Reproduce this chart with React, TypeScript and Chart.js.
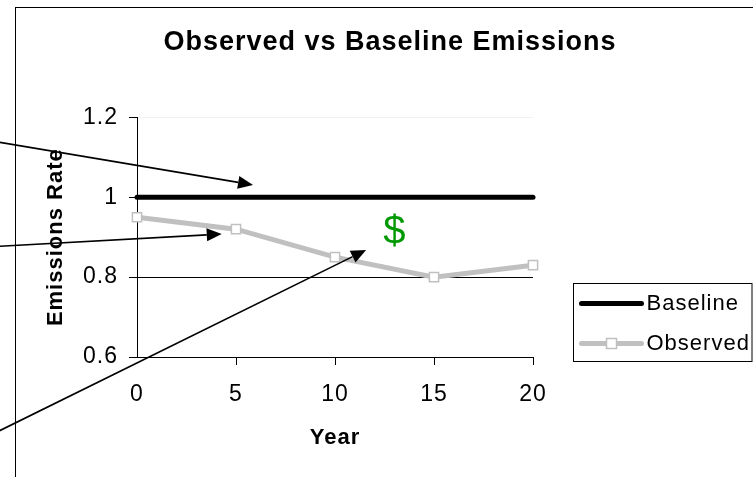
import React, { useEffect, useRef } from 'react';
import { Chart, registerables } from 'chart.js';

Chart.register(...registerables);

// Series data
const years = [0, 5, 10, 15, 20];
const baseline = [1, 1, 1, 1, 1];
const observed = [0.95, 0.92, 0.85, 0.8, 0.83];

// Axis ticks and labels
const xTicks = [0, 5, 10, 15, 20];
const yTicks = [0.6, 0.8, 1, 1.2];
const titleText = 'Observed vs Baseline Emissions';
const xTitle = 'Year';
const yTitle = 'Emissions Rate';
const seriesNames = ['Baseline', 'Observed'];

// Savings marker between the two curves (data coordinates)
const savingsLabel = { x: 13, y: 0.882, text: '$' };

// Callout arrows: tails start left of the plot, heads point into it (data coordinates)
const arrowTails = [
  [-7, 1.138],
  [-7, 0.877],
  [-7, 0.414],
];
const arrowHeads = [
  [5.86, 1.031],
  [4.28, 0.908],
  [11.57, 0.868],
];

const FONT = '"Liberation Sans", Arial, sans-serif';
const BASE_COLOR = '#000000';
const OBS_COLOR = '#c0c0c0';

function drawArrow(ctx: CanvasRenderingContext2D, x1: number, y1: number, x2: number, y2: number) {
  const ang = Math.atan2(y2 - y1, x2 - x1);
  const len = 15;
  const half = 6.5;
  const bx = x2 - len * Math.cos(ang);
  const by = y2 - len * Math.sin(ang);
  ctx.beginPath();
  ctx.moveTo(x1, y1);
  ctx.lineTo(bx, by);
  ctx.lineWidth = 1.6;
  ctx.strokeStyle = '#000';
  ctx.stroke();
  ctx.beginPath();
  ctx.moveTo(x2, y2);
  ctx.lineTo(bx - half * Math.sin(ang), by + half * Math.cos(ang));
  ctx.lineTo(bx + half * Math.sin(ang), by - half * Math.cos(ang));
  ctx.closePath();
  ctx.fillStyle = '#000';
  ctx.fill();
}

const decorPlugin = {
  id: 'decor',
  beforeUpdate(chart: any) {
    chart.ctx.letterSpacing = '1px';
  },
  beforeDraw(chart: any) {
    const ctx = chart.ctx as CanvasRenderingContext2D;
    ctx.save();
    ctx.fillStyle = '#ffffff';
    ctx.fillRect(0, 0, chart.width, chart.height);
    // outer frame of the chart object
    ctx.strokeStyle = '#000';
    ctx.lineWidth = 1;
    ctx.strokeRect(15.5, 7.5, chart.width + 20, chart.height + 20);
    ctx.restore();
    (ctx as any).letterSpacing = '1px';
  },
  afterDatasetsDraw(chart: any) {
    const ctx = chart.ctx as CanvasRenderingContext2D;
    const xs = chart.scales.x;
    const ys = chart.scales.y;
    ctx.save();
    (ctx as any).letterSpacing = '0px';
    ctx.font = `40px ${FONT}`;
    ctx.fillStyle = '#009900';
    ctx.textAlign = 'center';
    ctx.textBaseline = 'alphabetic';
    ctx.fillText(savingsLabel.text, xs.getPixelForValue(savingsLabel.x), ys.getPixelForValue(savingsLabel.y));
    ctx.restore();
  },
  afterDraw(chart: any) {
    const ctx = chart.ctx as CanvasRenderingContext2D;
    const xs = chart.scales.x;
    const ys = chart.scales.y;
    const area = chart.chartArea;

    ctx.save();
    arrowTails.forEach((t, i) => {
      const h = arrowHeads[i];
      drawArrow(
        ctx,
        xs.getPixelForValue(t[0]),
        ys.getPixelForValue(t[1]),
        xs.getPixelForValue(h[0]),
        ys.getPixelForValue(h[1])
      );
    });

    // legend box
    const lx = Math.round(area.right + 40) + 0.5;
    const ly = 283.5;
    const lw = chart.width - 1 - lx;
    const lh = 78;
    ctx.strokeStyle = '#000';
    ctx.lineWidth = 1;
    ctx.strokeRect(lx, ly, lw, lh);

    const rows = [ly + 20, ly + 60];
    const colors = [BASE_COLOR, OBS_COLOR];
    const x0 = lx + 8;
    const x1 = lx + 68;
    rows.forEach((ry, i) => {
      ctx.beginPath();
      ctx.moveTo(x0, ry);
      ctx.lineTo(x1, ry);
      ctx.strokeStyle = colors[i];
      ctx.lineWidth = 5;
      ctx.lineCap = 'round';
      ctx.stroke();
      if (i === 1) {
        const cx = (x0 + x1) / 2;
        ctx.fillStyle = '#ffffff';
        ctx.strokeStyle = OBS_COLOR;
        ctx.lineWidth = 1.5;
        ctx.fillRect(cx - 5, ry - 5, 10, 10);
        ctx.strokeRect(cx - 5, ry - 5, 10, 10);
      }
      (ctx as any).letterSpacing = '1px';
      ctx.font = `22px ${FONT}`;
      ctx.fillStyle = '#000';
      ctx.textAlign = 'left';
      ctx.textBaseline = 'middle';
      ctx.fillText(seriesNames[i], x1 + 5, ry);
    });
    ctx.restore();
  },
};

export default function App() {
  const canvasRef = useRef<HTMLCanvasElement | null>(null);

  useEffect(() => {
    const canvas = canvasRef.current;
    if (!canvas) return;
    Chart.defaults.font.family = FONT;
    Chart.defaults.color = '#000';

    const chart = new Chart(canvas, {
      type: 'line',
      data: {
        datasets: [
          {
            label: seriesNames[0],
            data: years.map((x, i) => ({ x, y: baseline[i] })),
            borderColor: BASE_COLOR,
            borderWidth: 5,
            borderCapStyle: 'round',
            pointRadius: 0,
            pointHoverRadius: 0,
            tension: 0,
            clip: false as any,
          },
          {
            label: seriesNames[1],
            data: years.map((x, i) => ({ x, y: observed[i] })),
            borderColor: OBS_COLOR,
            borderWidth: 5,
            borderCapStyle: 'round',
            pointStyle: 'rect',
            pointRadius: 6.5,
            pointHoverRadius: 6.5,
            pointBorderColor: OBS_COLOR,
            pointBackgroundColor: '#ffffff',
            pointBorderWidth: 1.5,
            tension: 0,
            clip: false as any,
          },
        ],
      },
      plugins: [decorPlugin],
      options: {
        responsive: false,
        animation: false,
        devicePixelRatio: 1,
        events: [],
        layout: { padding: { left: 27, right: 0, top: 0, bottom: 0 } },
        plugins: {
          legend: { display: false },
          tooltip: { enabled: false },
          title: {
            display: true,
            text: titleText,
            color: '#000',
            font: { size: 27, weight: 'bold', family: FONT },
            padding: { top: 26, bottom: 59 },
          },
        },
        scales: {
          x: {
            type: 'linear',
            min: 0,
            max: 20,
            afterBuildTicks: (s: any) => {
              s.ticks = xTicks.map((v) => ({ value: v }));
            },
            afterFit: (s: any) => {
              s.height = 120;
            },
            ticks: { color: '#000', font: { size: 23 }, padding: 16, maxRotation: 0, autoSkip: false },
            grid: {
              drawOnChartArea: false,
              tickLength: 8,
              tickColor: (c: any) => (c.tick && c.tick.value === 0 ? 'rgba(0,0,0,0)' : '#000'),
            },
            border: { color: '#000', width: 1 },
            title: {
              display: true,
              text: xTitle,
              color: '#000',
              font: { size: 22, weight: 'bold' },
              padding: { top: 0, bottom: 26 },
            },
          },
          y: {
            type: 'linear',
            min: 0.6,
            max: 1.2,
            afterBuildTicks: (s: any) => {
              s.ticks = yTicks.map((v) => ({ value: v }));
            },
            afterFit: (s: any) => {
              s.width = 110;
            },
            ticks: {
              color: '#000',
              font: { size: 23 },
              padding: 11,
              autoSkip: false,
              callback: (v: any) => String(v),
            },
            grid: {
              color: (c: any) => (c.tick && c.tick.value === 1.2 ? '#f2f2f2' : '#000'),
              tickColor: '#000',
              tickLength: 8,
              lineWidth: 1,
            },
            border: { color: '#000', width: 1 },
            title: {
              display: true,
              text: yTitle,
              color: '#000',
              font: { size: 22, weight: 'bold' },
              padding: { top: 16, bottom: 0 },
            },
          },
          legendSpace: {
            type: 'linear',
            position: 'right',
            display: true,
            grid: { display: false },
            border: { display: false },
            ticks: { display: false },
            afterFit: (s: any) => {
              s.width = 220;
            },
          },
        },
      } as any,
    });

    return () => {
      chart.destroy();
    };
  }, []);

  return (
    <div style={{ position: 'fixed', left: 0, top: 0, width: 753, height: 477, background: '#fff' }}>
      <canvas ref={canvasRef} width={753} height={477} style={{ display: 'block' }} />
    </div>
  );
}
